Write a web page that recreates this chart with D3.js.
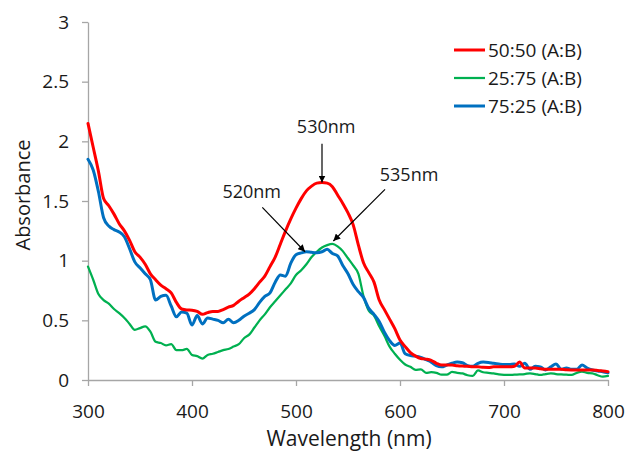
<!DOCTYPE html>
<html>
<head>
<meta charset="utf-8">
<script src="https://cdn.jsdelivr.net/npm/d3@7/dist/d3.min.js"></script>
<style>
  html, body { margin: 0; padding: 0; background: #fff; }
  svg { display: block; font-family: "Open Sans", sans-serif; }
</style>
</head>
<body>
<svg id="chart" width="629" height="451"></svg>
<script>
// ---------------- data ----------------
const wavelengths = d3.range(300, 801, 5);

const seriesNames = ["50:50 (A:B)", "25:75 (A:B)", "75:25 (A:B)"];

const red5050 = [
  2.15, 1.95, 1.75, 1.52, 1.46, 1.39, 1.31, 1.25, 1.17, 1.075,
  1.03, 0.97, 0.89, 0.84, 0.795, 0.765, 0.73, 0.65, 0.595, 0.587,
  0.585, 0.575, 0.55, 0.565, 0.575, 0.575, 0.59, 0.61, 0.625, 0.66,
  0.69, 0.72, 0.765, 0.82, 0.87, 0.95, 1.03, 1.14, 1.25, 1.35,
  1.44, 1.52, 1.585, 1.625, 1.65, 1.655, 1.65, 1.62, 1.55, 1.48,
  1.40, 1.30, 1.13, 0.98, 0.90, 0.82, 0.67, 0.59, 0.51, 0.43,
  0.335, 0.28, 0.23, 0.20, 0.18, 0.175, 0.165, 0.14, 0.125, 0.125,
  0.125, 0.12, 0.117, 0.115, 0.11, 0.11, 0.106, 0.105, 0.11, 0.11,
  0.11, 0.11, 0.115, 0.15, 0.10, 0.10, 0.10, 0.095, 0.09, 0.09,
  0.09, 0.09, 0.085, 0.084, 0.084, 0.084, 0.084, 0.084, 0.08, 0.075,
  0.07
];

const green2575 = [
  0.95, 0.84, 0.72, 0.67, 0.64, 0.595, 0.56, 0.52, 0.47, 0.42,
  0.435, 0.45, 0.405, 0.32, 0.31, 0.29, 0.30, 0.25, 0.25, 0.26,
  0.21, 0.20, 0.18, 0.21, 0.22, 0.235, 0.25, 0.26, 0.28, 0.30,
  0.35, 0.38, 0.44, 0.50, 0.55, 0.61, 0.66, 0.71, 0.76, 0.81,
  0.88, 0.92, 0.97, 1.03, 1.075, 1.11, 1.13, 1.14, 1.12, 1.08,
  1.02, 0.96, 0.89, 0.70, 0.58, 0.54, 0.45, 0.37, 0.28, 0.22,
  0.17, 0.13, 0.11, 0.085, 0.09, 0.06, 0.065, 0.06, 0.045, 0.045,
  0.068, 0.06, 0.055, 0.04, 0.035, 0.08, 0.065, 0.06, 0.055, 0.047,
  0.043, 0.042, 0.045, 0.047, 0.05, 0.056, 0.05, 0.042, 0.05, 0.056,
  0.05, 0.047, 0.045, 0.042, 0.06, 0.07, 0.06, 0.056, 0.04, 0.028,
  0.034
];

const blue7525 = [
  1.85, 1.76, 1.58, 1.36, 1.29, 1.26, 1.24, 1.20, 1.10, 0.99,
  0.94, 0.89, 0.84, 0.67, 0.70, 0.71, 0.62, 0.53, 0.57, 0.56,
  0.46, 0.54, 0.47, 0.52, 0.51, 0.50, 0.48, 0.51, 0.48, 0.50,
  0.535, 0.56, 0.59, 0.65, 0.70, 0.73, 0.82, 0.88, 0.87, 0.98,
  1.05, 1.065, 1.075, 1.07, 1.067, 1.075, 1.095, 1.06, 1.04, 0.96,
  0.89, 0.80, 0.74, 0.69, 0.60, 0.55, 0.49, 0.40, 0.33, 0.29,
  0.31, 0.22, 0.205, 0.20, 0.19, 0.17, 0.15, 0.12, 0.11, 0.125,
  0.14, 0.15, 0.145, 0.12, 0.115, 0.14, 0.15, 0.147, 0.14, 0.134,
  0.13, 0.13, 0.134, 0.115, 0.14, 0.09, 0.115, 0.11, 0.084, 0.11,
  0.134, 0.09, 0.10, 0.09, 0.09, 0.126, 0.10, 0.084, 0.075, 0.07,
  0.06
];

const xTicks = [300, 400, 500, 600, 700, 800];
const yTicks = [0, 0.5, 1, 1.5, 2, 2.5, 3];

// annotation labels and arrows, in data units
const annoLabels = ["530nm", "535nm", "520nm"];
const annoText = [[529, 2.07], [608.7, 1.667], [457.4, 1.528]];
const annoFrom = [[525, 1.98], [585.6, 1.598], [467.6, 1.447]];
const annoTo   = [[525, 1.655], [535.9, 1.165], [508.7, 1.075]];

// ---------------- drawing ----------------
const colors = ["#ff0000", "#00b050", "#0070c0"];
const widths = [3, 2.25, 3];
const allSeries = [red5050, green2575, blue7525];

const svg = d3.select("#chart");
const x = d3.scaleLinear().domain([300, 800]).range([88, 608]);
const y = d3.scaleLinear().domain([0, 3]).range([380, 22]);

const axisColor = "#a6a6a6";
const textColor = "#1a1a1a";

// y axis
const gy = svg.append("g").attr("transform", "translate(88,0)")
  .call(d3.axisLeft(y).tickValues(yTicks).tickSize(6).tickSizeOuter(0).tickPadding(13)
    .tickFormat(d => String(d)));
// x axis
const gx = svg.append("g").attr("transform", "translate(0,380)")
  .call(d3.axisBottom(x).tickValues(xTicks).tickSize(6).tickSizeOuter(0).tickPadding(19));

[gx, gy].forEach(g => {
  g.select(".domain").attr("stroke", axisColor).attr("stroke-width", 1.3);
  g.selectAll(".tick line").attr("stroke", axisColor).attr("stroke-width", 1.3);
  g.selectAll(".tick text").attr("fill", textColor).style("font-size", "19px")
    .style("font-family", "'Open Sans', sans-serif");
});

// axis titles
svg.append("text").attr("x", 349).attr("y", 446).attr("text-anchor", "middle")
  .attr("fill", textColor).style("font-size", "21px").text("Wavelength (nm)");
svg.append("text").attr("transform", "translate(30,195) rotate(-90)")
  .attr("text-anchor", "middle").attr("fill", textColor).style("font-size", "20px")
  .text("Absorbance");

// lines
const line = d3.line().x((d, i) => x(wavelengths[i])).y(d => y(d)).curve(d3.curveMonotoneX);
const order = [1, 2, 0];
order.forEach(k => {
  svg.append("path").datum(allSeries[k])
    .attr("fill", "none").attr("stroke", colors[k]).attr("stroke-width", widths[k])
    .attr("stroke-linejoin", "round").attr("stroke-linecap", "round")
    .attr("d", line);
});

// arrowhead marker
svg.append("defs").append("marker")
  .attr("id", "arrow").attr("viewBox", "0 0 10 10").attr("refX", 10).attr("refY", 5)
  .attr("markerWidth", 7).attr("markerHeight", 7).attr("markerUnits", "userSpaceOnUse")
  .attr("orient", "auto")
  .append("path").attr("d", "M0,0 L10,5 L0,10 Z").attr("fill", "#000");

annoLabels.forEach((lab, i) => {
  svg.append("line")
    .attr("x1", x(annoFrom[i][0])).attr("y1", y(annoFrom[i][1]))
    .attr("x2", x(annoTo[i][0])).attr("y2", y(annoTo[i][1]))
    .attr("stroke", "#000").attr("stroke-width", 1.2).attr("marker-end", "url(#arrow)");
  svg.append("text").attr("x", x(annoText[i][0])).attr("y", y(annoText[i][1]))
    .attr("text-anchor", "middle").attr("fill", textColor).style("font-size", "18px")
    .text(lab);
});

// legend
const legY = [50, 78, 106];
seriesNames.forEach((name, i) => {
  svg.append("line").attr("x1", 454).attr("x2", 485).attr("y1", legY[i]).attr("y2", legY[i])
    .attr("stroke", colors[i]).attr("stroke-width", widths[i]);
  svg.append("text").attr("x", 488).attr("y", legY[i]).attr("dy", "0.35em")
    .attr("fill", textColor).style("font-size", "19px").text(name);
});
</script>
</body>
</html>
